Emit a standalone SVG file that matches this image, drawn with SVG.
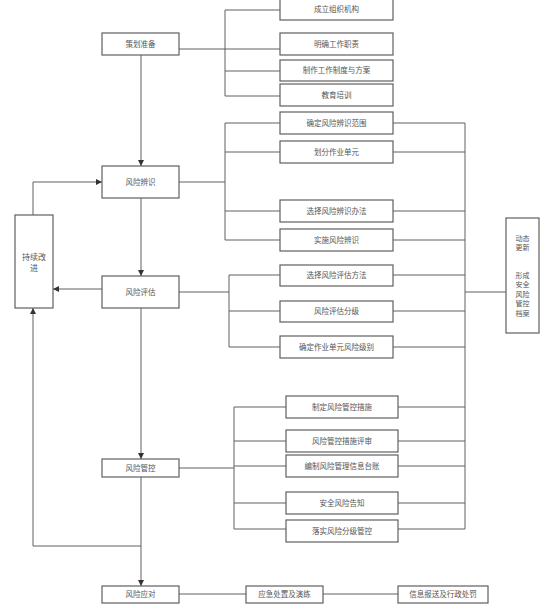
<svg xmlns="http://www.w3.org/2000/svg" width="556" height="615" viewBox="0 0 556 615">
<style>
.b{fill:#fff;stroke:#5f5f5f;stroke-width:1.2}
.t{font-family:"Liberation Sans","Noto Sans CJK SC",sans-serif;font-size:7.5px;fill:#555;text-anchor:middle;dominant-baseline:central}
.c{fill:none;stroke:#606060;stroke-width:1}
</style>
<defs>
<marker id="ah" markerUnits="userSpaceOnUse" markerWidth="7" markerHeight="7" refX="6" refY="3" orient="auto">
<path d="M0,0 L6,3 L0,6 z" fill="#333"/>
</marker>
</defs>
<rect width="556" height="615" fill="#fff"/>
<g id="connectors">
<path class="c" d="M179,49 H280 M225,10 V96 M225,10 H280 M225,71 H280 M225,96 H280"/>
<path class="c" d="M179,182 H225 M225,123 V240 M225,123 H280 M225,152 H280 M225,211 H280 M225,240 H280"/>
<path class="c" d="M393,123 H465 M393,152 H465 M393,211 H465 M393,240 H465"/>
<path class="c" d="M179,292 H229 M229,275 V347 M229,275 H280 M229,311 H280 M229,347 H280"/>
<path class="c" d="M393,275 H465 M393,311 H465 M393,347 H465"/>
<path class="c" d="M179,468 H234 M234,407 V529 M234,407 H286 M234,441 H286 M234,466 H286 M234,503 H286 M234,529 H286"/>
<path class="c" d="M398,407 H465 M398,441 H465 M398,466 H465 M398,503 H465 M398,529 H465"/>
<path class="c" d="M465,123 V529 M465,292 H506"/>
<path class="c" d="M141,55 V166" marker-end="url(#ah)"/>
<path class="c" d="M141,198 V276" marker-end="url(#ah)"/>
<path class="c" d="M141,308 V459" marker-end="url(#ah)"/>
<path class="c" d="M141,477 V586" marker-end="url(#ah)"/>
<path class="c" d="M141,546 H33 V308" marker-end="url(#ah)"/>
<path class="c" d="M33,215 V182 H102" marker-end="url(#ah)"/>
<path class="c" d="M102,289 H53" marker-end="url(#ah)"/>
<path class="c" d="M179,594 H246 M323,594 H398"/>
</g>
<g id="n1"><rect class="b" x="102" y="33" width="77" height="22"/><text class="t" x="140.5" y="44">策划准备</text></g>
<g id="n2"><rect class="b" x="280" y="-2" width="113" height="22"/><text class="t" x="336.5" y="9">成立组织机构</text></g>
<g id="n3"><rect class="b" x="280" y="33" width="113" height="22"/><text class="t" x="336.5" y="44">明确工作职责</text></g>
<g id="n4"><rect class="b" x="280" y="60" width="113" height="21"/><text class="t" x="336.5" y="70.5">制作工作制度与方案</text></g>
<g id="n5"><rect class="b" x="280" y="84" width="113" height="22"/><text class="t" x="336.5" y="95">教育培训</text></g>
<g id="n6"><rect class="b" x="102" y="166" width="77" height="32"/><text class="t" x="140.5" y="182">风险辨识</text></g>
<g id="n7"><rect class="b" x="280" y="112" width="113" height="22"/><text class="t" x="336.5" y="123">确定风险辨识范围</text></g>
<g id="n8"><rect class="b" x="280" y="141" width="113" height="22"/><text class="t" x="336.5" y="152">划分作业单元</text></g>
<g id="n9"><rect class="b" x="280" y="200" width="113" height="22"/><text class="t" x="336.5" y="211">选择风险辨识办法</text></g>
<g id="n10"><rect class="b" x="280" y="229" width="113" height="22"/><text class="t" x="336.5" y="240">实施风险辨识</text></g>
<g id="n11"><rect class="b" x="102" y="276" width="77" height="32"/><text class="t" x="140.5" y="292">风险评估</text></g>
<g id="n12"><rect class="b" x="280" y="265" width="113" height="21"/><text class="t" x="336.5" y="275.5">选择风险评估方法</text></g>
<g id="n13"><rect class="b" x="280" y="301" width="113" height="21"/><text class="t" x="336.5" y="311.5">风险评估分级</text></g>
<g id="n14"><rect class="b" x="280" y="336" width="113" height="22"/><text class="t" x="336.5" y="347">确定作业单元风险级别</text></g>
<g id="n15"><rect class="b" x="102" y="459" width="77" height="18"/><text class="t" x="140.5" y="468">风险管控</text></g>
<g id="n16"><rect class="b" x="286" y="396" width="112" height="22"/><text class="t" x="342" y="407">制定风险管控措施</text></g>
<g id="n17"><rect class="b" x="286" y="430" width="112" height="22"/><text class="t" x="342" y="441">风险管控措施评审</text></g>
<g id="n18"><rect class="b" x="286" y="455" width="112" height="22"/><text class="t" x="342" y="466">编制风险管理信息台账</text></g>
<g id="n19"><rect class="b" x="286" y="492" width="112" height="22"/><text class="t" x="342" y="503">安全风险告知</text></g>
<g id="n20"><rect class="b" x="286" y="520" width="112" height="22"/><text class="t" x="342" y="531">落实风险分级管控</text></g>
<g id="n21"><rect class="b" x="15" y="215" width="38" height="93"/><text class="t" x="34" y="257" style="font-size:8px">持续改</text><text class="t" x="34" y="268" style="font-size:8px">进</text></g>
<g id="n22"><rect class="b" x="506" y="218" width="33" height="115"/>
<text class="t" x="522.5" y="238" style="font-size:7px">动态</text>
<text class="t" x="522.5" y="247" style="font-size:7px">更新</text>
<text class="t" x="522.5" y="275" style="font-size:7px">形成</text>
<text class="t" x="522.5" y="284.5" style="font-size:7px">安全</text>
<text class="t" x="522.5" y="294" style="font-size:7px">风险</text>
<text class="t" x="522.5" y="303.5" style="font-size:7px">管控</text>
<text class="t" x="522.5" y="313" style="font-size:7px">档案</text></g>
<g id="n23"><rect class="b" x="102" y="586" width="77" height="17"/><text class="t" x="140.5" y="594.5">风险应对</text></g>
<g id="n24"><rect class="b" x="246" y="586" width="77" height="17"/><text class="t" x="284.5" y="594.5">应急处置及演练</text></g>
<g id="n25"><rect class="b" x="398" y="586" width="90" height="17"/><text class="t" x="443" y="594.5">信息报送及行政处罚</text></g>
</svg>
